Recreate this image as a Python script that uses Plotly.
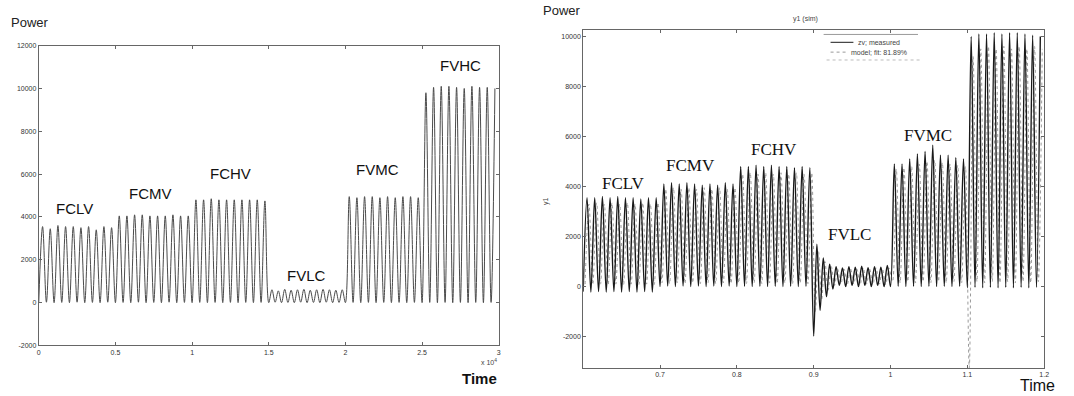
import plotly.graph_objects as go

# ---------------- left panel: power vs time (x 10^4) ----------------
L_SEGMENTS = ["FCLV", "FCMV", "FCHV", "FVLC", "FVMC", "FVHC"]
L_EDGES = [0.0, 0.5, 1.0, 1.5, 2.0, 2.5, 3.0]

L_FCLV_PK = [3550, 3450, 3600, 3550, 3550, 3500, 3550, 3400, 3550, 3500]
L_FCLV_TR = [0, 20, 0, 10, 0, 20, 0, 10, 0, 20]
L_FCMV_PK = [4050, 4050, 4100, 4100, 4050, 4050, 4050, 4100, 4050, 4050]
L_FCMV_TR = [0, 10, 0, 20, 0, 10, 0, 20, 0, 10]
L_FCHV_PK = [4800, 4800, 4850, 4800, 4800, 4800, 4800, 4800, 4800, 4750]
L_FCHV_TR = [0, 10, 0, 10, 0, 10, 0, 10, 0, 10]
L_FVLC_PK = [600, 550, 620, 580, 600, 620, 580, 600, 620, 600, 580, 600]
L_FVLC_TR = [0, 20, 0, 10, 0, 20, 0, 10, 0, 20, 0, 10]
L_FVMC_PK = [4950, 4900, 4950, 4950, 4900, 4950, 4900, 4950, 4950, 4900]
L_FVMC_TR = [0, 10, 0, 10, 0, 10, 0, 10, 0, 10]
L_FVHC_PK = [9800, 10050, 10100, 10100, 10050, 10000, 10100, 10050, 10050, 10000]
L_FVHC_TR = [0, 10, 0, 10, 0, 10, 0, 10, 0, 10]

L_PEAKS = [L_FCLV_PK, L_FCMV_PK, L_FCHV_PK, L_FVLC_PK, L_FVMC_PK, L_FVHC_PK]
L_TROUGHS = [L_FCLV_TR, L_FCMV_TR, L_FCHV_TR, L_FVLC_TR, L_FVMC_TR, L_FVHC_TR]

L_YTICKS = [-2000, 0, 2000, 4000, 6000, 8000, 10000, 12000]
L_XTICKS = [0, 0.5, 1, 1.5, 2, 2.5, 3]
L_XTICK_TEXT = ["0", "0.5", "1", "1.5", "2", "2.5", "3"]

# label anchors (x, y) in data units of the left axes
L_LABEL_X = [0.23, 0.73, 1.25, 1.745, 2.21, 2.75]
L_LABEL_Y = [4400, 5090, 6010, 1280, 6240, 11050]

# ---------------- right panel: measured vs model ----------------
R_SEGMENTS = ["FCLV", "FCMV", "FCHV", "FVLC", "FVMC", "FVHC"]
R_EDGES = [0.6, 0.7, 0.8, 0.9, 1.0, 1.1, 1.2]

R_FCLV_PK = [3550, 3550, 3600, 3550, 3600, 3550, 3550, 3500, 3550, 3550]
R_FCLV_TR = [-200, -220, -200, -220, -200, -220, -200, -220, -200, -220]
R_FCMV_PK = [4100, 4150, 4100, 4150, 4100, 4050, 4100, 4050, 4150, 4100]
R_FCMV_TR = [0, 20, 0, 20, 0, 20, 0, 20, 0, 20]
R_FCHV_PK = [4800, 4800, 4850, 4800, 4850, 4800, 4800, 4750, 4800, 4750]
R_FCHV_TR = [0, 10, 0, 10, 0, 10, 0, 10, 0, 10]
R_FVLC_PK = [1700, 1150, 900, 800, 750, 800, 780, 820, 760, 800, 780, 850]
R_FVLC_TR = [-1980, -950, -400, -100, 50, 0, 50, 0, 50, 0, 50, 0]
R_FVMC_PK = [4900, 4900, 5100, 5300, 5400, 5650, 5250, 5250, 5150, 5100]
R_FVMC_TR = [0, 10, 0, 10, 0, 10, 0, 10, 0, 10]
R_FVHC_PK = [10000, 10100, 10100, 10150, 10100, 10150, 10150, 10100, 10050, 10000]
R_FVHC_TR = [-50, -30, -50, -30, -50, -30, -50, -30, -50, -30]

R_MODEL_FCLV_PK = [3300, 3350, 3300, 3350, 3300, 3350, 3300, 3350, 3300, 3350]
R_MODEL_FCLV_TR = [100, 80, 100, 80, 100, 80, 100, 80, 100, 80]
R_MODEL_FCMV_PK = [3900, 3950, 3900, 3950, 3900, 3950, 3900, 3950, 3900, 3950]
R_MODEL_FCMV_TR = [150, 120, 150, 120, 150, 120, 150, 120, 150, 120]
R_MODEL_FCHV_PK = [4500, 4550, 4500, 4550, 4500, 4550, 4500, 4550, 4500, 4550]
R_MODEL_FCHV_TR = [150, 120, 150, 120, 150, 120, 150, 120, 150, 120]
R_MODEL_FVLC_PK = [1400, 1000, 800, 700, 700, 750, 700, 750, 700, 750, 700, 750]
R_MODEL_FVLC_TR = [-1000, -500, -150, 50, 100, 80, 100, 80, 100, 80, 100, 80]
R_MODEL_FVMC_PK = [4700, 4750, 4800, 4900, 5000, 5050, 4950, 4900, 4850, 4800]
R_MODEL_FVMC_TR = [200, 150, 200, 150, 200, 150, 200, 150, 200, 150]
R_MODEL_FVHC_PK = [9200, 9500, 9600, 9500, 9600, 9500, 9600, 9500, 9600, 9500]
R_MODEL_FVHC_TR = [-3250, 200, 150, 200, 150, 200, 150, 200, 150, 200]

R_PEAKS = [R_FCLV_PK, R_FCMV_PK, R_FCHV_PK, R_FVLC_PK, R_FVMC_PK, R_FVHC_PK]
R_TROUGHS = [R_FCLV_TR, R_FCMV_TR, R_FCHV_TR, R_FVLC_TR, R_FVMC_TR, R_FVHC_TR]
R_MODEL_PEAKS = [R_MODEL_FCLV_PK, R_MODEL_FCMV_PK, R_MODEL_FCHV_PK,
                 R_MODEL_FVLC_PK, R_MODEL_FVMC_PK, R_MODEL_FVHC_PK]
R_MODEL_TROUGHS = [R_MODEL_FCLV_TR, R_MODEL_FCMV_TR, R_MODEL_FCHV_TR,
                   R_MODEL_FVLC_TR, R_MODEL_FVMC_TR, R_MODEL_FVHC_TR]

R_YTICKS = [-2000, 0, 2000, 4000, 6000, 8000, 10000]
R_XTICKS = [0.7, 0.8, 0.9, 1.0, 1.1, 1.2]
R_XTICK_TEXT = ["0.7", "0.8", "0.9", "1", "1.1", "1.2"]

R_LABEL_X = [0.652, 0.74, 0.848, 0.947, 1.049, 1.154]
R_LABEL_Y = [4110, 4860, 5490, 2070, 6035, 10590]

LEGEND_NAMES = ["zv; measured", "model; fit: 81.89%"]


def build_wave(edges, peaks, troughs, phase=0.0):
    """Sample each cycle at its trough and peak, segment by segment."""
    xs, ys = [], []
    for (a, b), pk, tr in zip(zip(edges[:-1], edges[1:]), peaks, troughs):
        dt = (b - a) / len(pk)
        for k in range(len(pk)):
            xs.append(a + (k + phase) * dt)
            ys.append(tr[k])
            xs.append(a + (k + phase + 0.5) * dt)
            ys.append(pk[k])
    return xs, ys


lx, ly = build_wave(L_EDGES, L_PEAKS, L_TROUGHS)
rx, ry = build_wave(R_EDGES, R_PEAKS, R_TROUGHS)
mx, my = build_wave(R_EDGES, R_MODEL_PEAKS, R_MODEL_TROUGHS, phase=0.25)

MEAS_COLOR = "#1a1a1a"
MODEL_COLOR = "#9a9a9a"

fig = go.Figure()
fig.add_trace(go.Scatter(
    x=lx, y=ly, mode="lines", line=dict(color="#4a4a4a", width=1, shape="spline"),
    xaxis="x", yaxis="y", showlegend=False, hoverinfo="skip"))
fig.add_trace(go.Scatter(
    x=mx, y=my, mode="lines", name=LEGEND_NAMES[1],
    line=dict(color=MODEL_COLOR, width=1, dash="dot", shape="spline"),
    xaxis="x2", yaxis="y2", showlegend=False, hoverinfo="skip"))
fig.add_trace(go.Scatter(
    x=rx, y=ry, mode="lines", name=LEGEND_NAMES[0],
    line=dict(color=MEAS_COLOR, width=1.4, shape="spline"),
    xaxis="x2", yaxis="y2", showlegend=False, hoverinfo="skip"))

axis_common = dict(
    showgrid=False, zeroline=False, showline=True, linecolor="#666666",
    linewidth=1, mirror="ticks", ticks="inside", ticklen=3, tickcolor="#666666",
    tickfont=dict(family="Liberation Sans, Arial", size=7, color="#333333"),
)

fig.update_layout(
    width=1074, height=396,
    margin=dict(l=0, r=0, t=0, b=0),
    paper_bgcolor="white", plot_bgcolor="white",
    showlegend=False,
    xaxis=dict(domain=[37 / 1074, 500 / 1074], range=[0, 3],
               tickvals=L_XTICKS, ticktext=L_XTICK_TEXT,
               anchor="y", **axis_common),
    yaxis=dict(domain=[1 - 347.6 / 396, 1 - 42.4 / 396], range=[-2000, 12000],
               tickvals=L_YTICKS, ticktext=[str(v) for v in L_YTICKS],
               anchor="x", **axis_common),
    xaxis2=dict(domain=[585 / 1074, 1049 / 1074], range=[0.6, 1.2],
                tickvals=R_XTICKS, ticktext=R_XTICK_TEXT,
                anchor="y2", **axis_common),
    yaxis2=dict(domain=[1 - 370.5 / 396, 1 - 26.6 / 396], range=[-3250, 10250],
                tickvals=R_YTICKS, ticktext=[str(v) for v in R_YTICKS],
                anchor="x2", **axis_common),
)


def px(x):
    return x / 1074


def py(y):
    return 1 - y / 396


# compact legend box for the right panel
shapes = [
    dict(type="line", xref="paper", yref="paper", x0=px(827), x1=px(922),
         y0=py(31), y1=py(31), line=dict(color="#999999", width=1)),
    dict(type="line", xref="paper", yref="paper", x0=px(830), x1=px(924),
         y0=py(57), y1=py(57), line=dict(color="#bbbbbb", width=1, dash="dot")),
    dict(type="line", xref="paper", yref="paper", x0=px(834), x1=px(857),
         y0=py(39), y1=py(39), line=dict(color=MEAS_COLOR, width=1)),
    dict(type="line", xref="paper", yref="paper", x0=px(834), x1=px(850),
         y0=py(49), y1=py(49), line=dict(color=MODEL_COLOR, width=1, dash="dot")),
]
fig.update_layout(shapes=shapes)

annotations = []
for name, x, y in zip(L_SEGMENTS, L_LABEL_X, L_LABEL_Y):
    annotations.append(dict(x=x, y=y, xref="x", yref="y", text=name, showarrow=False,
                            font=dict(family="Liberation Sans, Arial", size=15, color="#111111")))
for name, x, y in zip(R_SEGMENTS, R_LABEL_X, R_LABEL_Y):
    annotations.append(dict(x=x, y=y, xref="x2", yref="y2", text=name, showarrow=False,
                            font=dict(family="Liberation Serif, Times New Roman", size=17,
                                      color="#111111")))

small = dict(family="Liberation Sans, Arial", size=7, color="#444444")
annotations += [
    dict(x=px(860), y=py(39), xref="paper", yref="paper", text=LEGEND_NAMES[0],
         showarrow=False, xanchor="left", yanchor="middle", font=small),
    dict(x=px(853), y=py(49), xref="paper", yref="paper", text=LEGEND_NAMES[1],
         showarrow=False, xanchor="left", yanchor="middle", font=small),
    # axis captions
    dict(x=px(7), y=py(19), xref="paper", yref="paper", text="Power",
         showarrow=False, xanchor="left", yanchor="middle",
         font=dict(family="Liberation Sans, Arial", size=13, color="#222222")),
    dict(x=px(500), y=py(381), xref="paper", yref="paper", text="<b>Time</b>",
         showarrow=False, xanchor="right", yanchor="middle",
         font=dict(family="Liberation Sans, Arial", size=15, color="#111111")),
    dict(x=px(500), y=py(364), xref="paper", yref="paper",
         text="x 10<sup>4</sup>", showarrow=False, xanchor="right", yanchor="middle",
         font=small),
    dict(x=px(543), y=py(7), xref="paper", yref="paper", text="Power",
         showarrow=False, xanchor="left", yanchor="middle",
         font=dict(family="Liberation Sans, Arial", size=13, color="#222222")),
    dict(x=px(1062), y=py(388), xref="paper", yref="paper", text="Time",
         showarrow=False, xanchor="right", yanchor="middle",
         font=dict(family="Liberation Sans, Arial", size=16, color="#111111")),
    dict(x=px(809), y=py(15), xref="paper", yref="paper", text="y1 (sim)",
         showarrow=False, xanchor="center", yanchor="middle", font=small),
    dict(x=px(548), y=py(200), xref="paper", yref="paper", text="y1",
         showarrow=False, textangle=-90, xanchor="center", yanchor="middle", font=small),
]
fig.update_layout(annotations=annotations)

fig.write_html("out.html")
